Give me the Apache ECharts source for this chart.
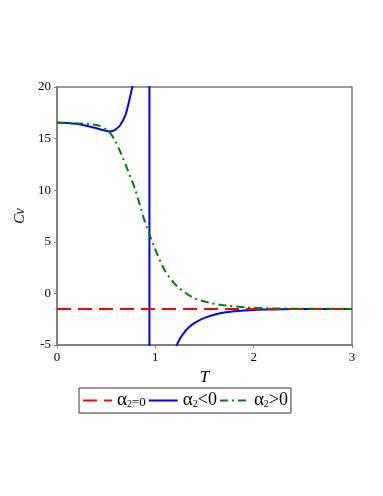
<!DOCTYPE html>
<html>
<head>
<meta charset="utf-8">
<script src="https://cdn.jsdelivr.net/npm/echarts@6/dist/echarts.min.js"></script>
<style>
    html, body { margin: 0; padding: 0; background: #fff; }
    #chart { width: 383px; height: 496px; }
</style>
</head>
<body>
<div id="chart"></div>
<script>
    // legend labels (alpha_2 conditions)
    const seriesNames = ['a0', 'aneg', 'apos']
    const legendLabels = {
        a0: '{a|α}{s|2}{m|=0}',
        aneg: '{a|α}{s|2}{b|<0}',
        apos: '{a|α}{s|2}{b|>0}'
    }

    // axis ticks
    const xTicks = [0, 1, 2, 3]
    const yTicks = [-5, 0, 5, 10, 15, 20]

    // alpha2 = 0 : constant
    const tRed = [0, 3]
    const cvRed = [-1.5, -1.5]

    // alpha2 < 0 : left branch, pole, right branch
    const tBlueLeft = [0, 0.1, 0.19, 0.32, 0.42, 0.48, 0.54, 0.59, 0.64, 0.695, 0.73, 0.77, 0.8]
    const cvBlueLeft = [16.56, 16.52, 16.44, 16.2, 15.95, 15.8, 15.7, 15.85, 16.27, 17.24, 18.5, 20.2, 21.8]
    const tPole = [0.94, 0.94]
    const cvPole = [21, -6]
    const tBlueRight = [1.2, 1.25, 1.3, 1.35, 1.4, 1.45, 1.5, 1.6, 1.7, 1.8, 1.9, 2.0, 2.2, 2.4, 2.7, 3.0]
    const cvBlueRight = [-5.4, -4.4, -3.7, -3.2, -2.85, -2.58, -2.37, -2.06, -1.86, -1.74, -1.66, -1.6, -1.55, -1.52, -1.505, -1.5]

    // alpha2 > 0
    const tGreen = [0, 0.15, 0.29, 0.36, 0.42, 0.49, 0.54, 0.59, 0.64, 0.695, 0.75, 0.8, 0.88, 0.94, 1.02, 1.1, 1.22, 1.39, 1.56, 1.73, 1.93, 2.2, 2.5, 3.0]
    const cvGreen = [16.5, 16.5, 16.44, 16.38, 16.27, 15.95, 15.55, 14.8, 13.8, 12.54, 11.2, 9.94, 7.34, 5.72, 3.78, 2.15, 0.69, -0.45, -0.93, -1.19, -1.35, -1.45, -1.49, -1.5]

    const zip = (xs, ys) => xs.map((x, i) => [x, ys[i]])

    const blueData = zip(tBlueLeft, cvBlueLeft)
        .concat([[null, null]], zip(tPole, cvPole), [[null, null]], zip(tBlueRight, cvBlueRight))

    const serif = '"Liberation Serif", "DejaVu Serif", serif'

    let chart = echarts.init(document.getElementById('chart'))
    chart.setOption({
        animation: false,
        grid: {
            left: 57, right: 31, top: 87, bottom: 151,
            show: true,
            borderColor: '#7a7a7a',
            borderWidth: 1.5
        },
        legend: {
            data: seriesNames,
            left: 79, top: 388,
            padding: [3, 3, 3, 3],
            itemGap: 2,
            itemWidth: 29,
            itemHeight: 14,
            borderColor: '#333',
            borderWidth: 1,
            itemStyle: { opacity: 0 },
            formatter: name => legendLabels[name],
            textStyle: {
                fontFamily: serif,
                color: '#000',
                rich: {
                    a: { fontSize: 19, fontFamily: serif },
                    s: { fontSize: 10, fontFamily: serif, padding: [8, 0, 0, 0] },
                    m: { fontSize: 13, fontFamily: serif, padding: [4, 0, 0, 0] },
                    b: { fontSize: 18, fontFamily: serif }
                }
            }
        },
        xAxis: {
            type: 'value',
            min: xTicks[0], max: xTicks[xTicks.length - 1], interval: 1,
            name: 'T',
            nameLocation: 'middle',
            nameGap: 20,
            nameTextStyle: { fontFamily: serif, fontStyle: 'italic', fontSize: 17, color: '#000' },
            axisLine: { onZero: false, lineStyle: { color: '#7a7a7a', width: 1.5 } },
            axisTick: { show: true, length: 3, lineStyle: { color: '#7a7a7a' } },
            axisLabel: { fontFamily: serif, fontSize: 13, color: '#000', margin: 6 },
            splitLine: { show: false }
        },
        yAxis: {
            type: 'value',
            min: yTicks[0], max: yTicks[yTicks.length - 1], interval: 5,
            name: 'Cv',
            nameLocation: 'middle',
            nameGap: 15,
            nameRotate: 90,
            nameTextStyle: { fontFamily: serif, fontStyle: 'italic', fontSize: 14, color: '#000' },
            axisLine: { show: true, onZero: false, lineStyle: { color: '#7a7a7a', width: 1.5 } },
            axisTick: { show: true, length: 3, lineStyle: { color: '#7a7a7a' } },
            axisLabel: { fontFamily: serif, fontSize: 13, color: '#000', margin: 6 },
            splitLine: { show: false }
        },
        series: [
            {
                name: 'a0',
                type: 'line',
                symbol: 'none',
                data: zip(tRed, cvRed),
                lineStyle: { color: '#ff0000', width: 2, type: [14, 7] },
                itemStyle: { color: '#ff0000' },
                z: 3
            },
            {
                name: 'aneg',
                type: 'line',
                symbol: 'none',
                smooth: 0.25,
                connectNulls: false,
                data: blueData,
                lineStyle: { color: '#0000ff', width: 2 },
                itemStyle: { color: '#0000ff' },
                z: 2
            },
            {
                name: 'apos',
                type: 'line',
                symbol: 'none',
                smooth: 0.25,
                data: zip(tGreen, cvGreen),
                lineStyle: { color: '#008000', width: 2, type: [8, 4, 2, 4] },
                itemStyle: { color: '#008000' },
                z: 4
            }
        ]
    })
</script>
</body>
</html>
